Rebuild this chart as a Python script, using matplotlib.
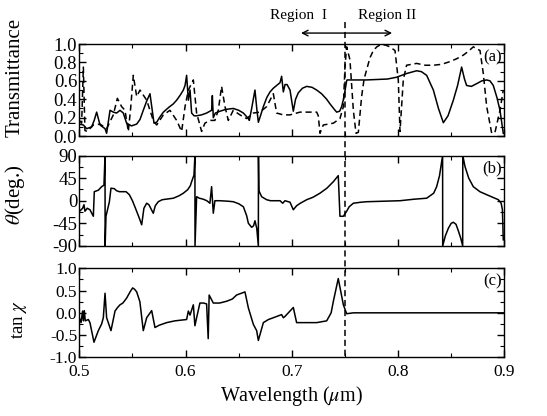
import numpy as np
import matplotlib
matplotlib.use("Agg")
import matplotlib.pyplot as plt
from matplotlib.transforms import blended_transform_factory
from matplotlib.lines import Line2D
from matplotlib.ticker import MultipleLocator

plt.rcParams['font.family'] = ['Liberation Serif', 'DejaVu Serif']
plt.rcParams['mathtext.fontset'] = 'stix'
plt.rcParams['axes.unicode_minus'] = False

# ---------------- data ----------------
# Panel (a): transmittance, solid curve
ta_solid_x = [0.5, 0.5038, 0.5069, 0.5116, 0.5140, 0.5163, 0.5195, 0.5242, 0.5257, 0.5289,
              0.532, 0.5351, 0.5383, 0.5414, 0.5445, 0.5477, 0.549, 0.554, 0.5571, 0.5602,
              0.5634, 0.5665, 0.5703, 0.5728, 0.576, 0.5791, 0.584, 0.5885, 0.5916, 0.5947,
              0.5979, 0.5995, 0.601, 0.6026, 0.6042, 0.6057, 0.608, 0.6104, 0.615, 0.6198,
              0.6245, 0.6252, 0.6261, 0.628, 0.6324, 0.638, 0.6449, 0.65, 0.6544, 0.6591,
              0.6600, 0.6622, 0.6653, 0.667, 0.6685, 0.6705, 0.6732, 0.6765, 0.6795, 0.6826,
              0.6857, 0.6889, 0.6904, 0.692, 0.6936, 0.6955, 0.6983, 0.7014, 0.7035, 0.7061,
              0.71, 0.714, 0.719, 0.7234, 0.728, 0.7328, 0.7359, 0.74, 0.7422, 0.745,
              0.7469, 0.749, 0.7516, 0.752, 0.77, 0.79, 0.7987, 0.808, 0.8175, 0.822,
              0.8269, 0.8332, 0.838, 0.8426, 0.847, 0.852, 0.856, 0.8598, 0.8625, 0.8645,
              0.869, 0.874, 0.8788, 0.8834, 0.8865, 0.8896, 0.893, 0.8959, 0.899]
ta_solid_y = [0.13, 0.12, 0.08, 0.10, 0.17, 0.26, 0.12, 0.08, 0.03, 0.28,
              0.26, 0.25, 0.28, 0.25, 0.14, 0.12, 0.11, 0.13, 0.18, 0.28,
              0.38, 0.46, 0.14, 0.15, 0.21, 0.26, 0.31, 0.35, 0.39, 0.44,
              0.50, 0.55, 0.66, 0.39, 0.50, 0.25, 0.22, 0.22, 0.23, 0.25,
              0.28, 0.44, 0.20, 0.25, 0.27, 0.29, 0.30, 0.28, 0.25, 0.19,
              0.17, 0.30, 0.50, 0.30, 0.15, 0.22, 0.32, 0.42, 0.48, 0.52,
              0.55, 0.58, 0.65, 0.48, 0.56, 0.56, 0.50, 0.27, 0.40, 0.47,
              0.52, 0.54, 0.53, 0.50, 0.46, 0.40, 0.35, 0.29, 0.26, 0.27,
              0.32, 0.42, 0.60, 0.61, 0.61, 0.62, 0.64, 0.68, 0.71, 0.70,
              0.66, 0.50, 0.30, 0.145, 0.22, 0.39, 0.55, 0.75, 0.62, 0.55,
              0.54, 0.57, 0.60, 0.61, 0.60, 0.55, 0.42, 0.28, 0.03]

# Panel (a): transmittance, dashed curve
ta_dash_x = [0.5, 0.5022, 0.5038, 0.5053, 0.5075, 0.5132, 0.5195, 0.5257, 0.532, 0.5358,
             0.5398, 0.543, 0.5461, 0.5483, 0.5508, 0.554, 0.5571, 0.5634, 0.5696, 0.5728,
             0.5791, 0.5853, 0.5916, 0.5963, 0.5995, 0.6026, 0.6073, 0.6104, 0.6151, 0.6182,
             0.6229, 0.6276, 0.6308, 0.6339, 0.6371, 0.6402, 0.6449, 0.6512, 0.6575, 0.6638,
             0.67, 0.6763, 0.6826, 0.6857, 0.692, 0.6983, 0.7077, 0.7234, 0.7249, 0.7265,
             0.7296, 0.7391, 0.7453, 0.7485, 0.75, 0.7516, 0.7547, 0.7579, 0.7604, 0.7626,
             0.7657, 0.768, 0.7704, 0.7735, 0.7767, 0.78, 0.783, 0.788, 0.7924, 0.7971,
             0.8002, 0.8018, 0.8049, 0.808, 0.8175, 0.8255, 0.8332, 0.841, 0.8489, 0.855,
             0.8614, 0.866, 0.8708, 0.8771, 0.8802, 0.8834, 0.8881, 0.8912, 0.8959, 0.899]
ta_dash_y = [0.17, 0.14, 0.75, 0.06, 0.05, 0.12, 0.13, 0.08, 0.23, 0.41,
             0.32, 0.28, 0.05, 0.30, 0.66, 0.43, 0.50, 0.39, 0.17, 0.12,
             0.23, 0.28, 0.17, 0.05, 0.32, 0.50, 0.61, 0.25, 0.05, 0.14,
             0.17, 0.17, 0.28, 0.54, 0.32, 0.17, 0.28, 0.23, 0.19, 0.25,
             0.26, 0.32, 0.46, 0.25, 0.23, 0.23, 0.26, 0.26, 0.22, 0.03,
             0.12, 0.14, 0.19, 0.32, 0.75, 0.97, 0.83, 0.28, 0.03, 0.04,
             0.43, 0.62, 0.72, 0.85, 0.93, 0.97, 0.99, 0.99, 0.97, 0.93,
             0.61, 0.05, 0.61, 0.77, 0.79, 0.77, 0.77, 0.78, 0.81, 0.84,
             0.88, 0.92, 0.97, 0.93, 0.68, 0.32, 0.03, 0.04, 0.28, 0.50]

# Panel (b): theta (deg.)
th_x = [0.5, 0.5031, 0.5044, 0.5053, 0.5075, 0.51, 0.5132, 0.5141, 0.5179, 0.521,
        0.5232, 0.5242, 0.5243, 0.5251, 0.5283, 0.5298, 0.533, 0.535, 0.5377, 0.544,
        0.5471, 0.55, 0.5534, 0.5565, 0.5587, 0.5608, 0.5634, 0.5655, 0.5696, 0.5715,
        0.5743, 0.578, 0.5885, 0.594, 0.5979, 0.602, 0.6045, 0.6057, 0.6079, 0.6088,
        0.6089, 0.6104, 0.613, 0.6167, 0.62, 0.6229, 0.6245, 0.6261, 0.6276, 0.6324,
        0.64, 0.6449, 0.65, 0.6544, 0.6575, 0.6591, 0.6622, 0.664, 0.6653, 0.667,
        0.6685, 0.6686, 0.669, 0.6716, 0.6763, 0.68, 0.6889, 0.6914, 0.6936, 0.6983,
        0.7014, 0.7045, 0.708, 0.714, 0.72, 0.7265, 0.733, 0.7391, 0.7437, 0.7453,
        0.7485, 0.7516, 0.754, 0.7579, 0.765, 0.7704, 0.8018, 0.815, 0.8269, 0.8335,
        0.8363, 0.839, 0.8419, 0.842, 0.8445, 0.8473, 0.85, 0.852, 0.8545, 0.8567,
        0.859, 0.8608, 0.8609, 0.863, 0.8665, 0.8708, 0.877, 0.8834, 0.89, 0.8944,
        0.897, 0.8982, 0.899]
th_y = [-21.6, -15, -8, -21, -15, -18, -31, 18, 21, 28,
        31, 90, -90, -31, -2, 25, 24, 20, 18, 18,
        12, 0, -18, -35, -48, -15, -5, -8, -25, -10,
        -2, 2, 5, 10, 15, 22, 30, 38, 51, 90,
        -90, 8, 5, 3, 0, -5, 28, -25, 0, 0,
        -1, -2, -6, -12, -30, -45, -53, -50, -40, -55,
        -90, 90, 20, 8, 2, 0, 0, -5, 0, -3,
        -18, -10, -5, 2, 7, 15, 25, 38, 50, -31,
        -31, -21, -12, -5, -3, -2, 0, 3, 5, 15,
        28, 50, 90, -90, -70, -55, -45, -43, -47, -60,
        -75, -90, 90, 68, 45, 28, 18, 12, 6, 2,
        -5, -18, -78]

# Panel (c): tan chi
tc_x = [0.5, 0.5016, 0.5031, 0.5038, 0.5047, 0.5056, 0.5085, 0.51, 0.5138, 0.5179,
        0.521, 0.5226, 0.5242, 0.5257, 0.5298, 0.5336, 0.536, 0.5383, 0.541, 0.5445,
        0.548, 0.5502, 0.552, 0.554, 0.557, 0.5602, 0.5634, 0.5681, 0.5712, 0.575,
        0.5822, 0.59, 0.6010, 0.6026, 0.6042, 0.6073, 0.6088, 0.6104, 0.6135, 0.617,
        0.6198, 0.6213, 0.6222, 0.6261, 0.632, 0.6386, 0.644, 0.648, 0.6559, 0.6591,
        0.6638, 0.6669, 0.6685, 0.6732, 0.678, 0.6826, 0.6904, 0.692, 0.6936, 0.7014,
        0.7045, 0.7234, 0.7328, 0.737, 0.7391, 0.7437, 0.7485, 0.7516, 0.7579, 0.9]
tc_y = [-0.11, -0.22, 0.04, -0.18, 0.05, -0.18, -0.15, -0.22, -0.66, -0.40,
        -0.25, -0.11, 0.44, -0.11, -0.40, 0.04, 0.12, 0.18, 0.22, 0.33,
        0.48, 0.56, 0.53, 0.47, 0.25, -0.40, -0.11, 0.05, -0.33, -0.28,
        -0.22, -0.18, -0.15, 0.04, -0.05, 0.18, -0.29, -0.11, 0.22, 0.22,
        0.20, -0.58, 0.40, 0.22, 0.22, 0.26, 0.31, 0.40, 0.47, 0.11,
        -0.26, -0.40, -0.62, -0.22, -0.15, -0.11, -0.04, -0.11, -0.08, 0.12,
        -0.22, -0.22, -0.18, 0.0, 0.26, 0.77, 0.18, -0.02, 0.0, 0.0]

x_ticks = [0.5, 0.6, 0.7, 0.8, 0.9]
x_tick_labels = ['0.5', '0.6', '0.7', '0.8', '0.9']

# ---------------- figure ----------------
fig = plt.figure(figsize=(5.47, 4.16), dpi=100)
L, W = 0.145, 0.777
ax_a = fig.add_axes([L, 0.673, W, 0.221])
ax_b = fig.add_axes([L, 0.409, W, 0.217])
ax_c = fig.add_axes([L, 0.141, W, 0.214])

lw = 1.1
ax_a.plot(ta_solid_x, ta_solid_y, color='black', lw=lw)
ax_a.plot(ta_dash_x, ta_dash_y, color='black', lw=lw, ls=(0, (4, 2.5)))
ax_b.plot(th_x, th_y, color='black', lw=lw)
ax_c.plot(tc_x, tc_y, color='black', lw=lw)

for ax in (ax_a, ax_b, ax_c):
    ax.set_xlim(0.5, 0.9)
    ax.set_xticks(x_ticks)
    ax.xaxis.set_minor_locator(MultipleLocator(0.05))
    ax.tick_params(which='both', direction='in', top=True, right=True)
    ax.tick_params(axis='x', labelsize=12.5, pad=5)
    ax.tick_params(axis='y', pad=1.5)
    ax.tick_params(which='major', length=5, width=1)
    ax.tick_params(which='minor', length=3, width=0.8)
    for s in ax.spines.values():
        s.set_linewidth(1.0)

ax_a.tick_params(axis='y', labelsize=13.5)
ax_b.tick_params(axis='y', labelsize=13.5)
ax_c.tick_params(axis='y', labelsize=12.5)

ax_a.tick_params(labelbottom=False)
ax_b.tick_params(labelbottom=False)
ax_c.set_xticklabels(x_tick_labels)

ax_a.set_ylim(0, 1.0)
ax_a.set_yticks([0.0, 0.2, 0.4, 0.6, 0.8, 1.0])
ax_a.yaxis.set_minor_locator(MultipleLocator(0.1))
ax_a.set_yticklabels(['0.0', '0.2', '0.4', '0.6', '0.8', '1.0'])

ax_b.set_ylim(-90, 90)
ax_b.set_yticks([-90, -45, 0, 45, 90])
ax_b.yaxis.set_minor_locator(MultipleLocator(22.5))
ax_b.set_yticklabels(['-90', '-45', '0', '45', '90'])

ax_c.set_ylim(-1.0, 1.0)
ax_c.set_yticks([-1.0, -0.5, 0.0, 0.5, 1.0])
ax_c.yaxis.set_minor_locator(MultipleLocator(0.25))
ax_c.set_yticklabels(['-1.0', '-0.5', '0.0', '0.5', '1.0'])

ax_a.set_ylabel('Transmittance', fontsize=15)
ax_b.set_ylabel(r'$\theta$(deg.)', fontsize=15)
ax_c.set_ylabel(r'tan $\chi$', fontsize=13.5)
ax_a.yaxis.set_label_coords(-0.128, 0.64)
ax_b.yaxis.set_label_coords(-0.122, 0.57)
ax_c.yaxis.set_label_coords(-0.118, 0.43)
ax_c.set_xlabel(r'Wavelength ($\mu$m)', fontsize=14.5, labelpad=3)

for ax, lab in ((ax_a, '(a)'), (ax_b, '(b)'), (ax_c, '(c)')):
    ax.text(0.995, 0.855, lab, transform=ax.transAxes, ha='right', va='center', fontsize=12)

# vertical dashed divider at 0.75
tr = blended_transform_factory(ax_c.transData, fig.transFigure)
fig.add_artist(Line2D([0.75, 0.75], [0.947, 0.141], transform=tr, color='black',
                      lw=1.1, ls=(0, (4, 2.5))))

# region arrow and labels
tra = blended_transform_factory(ax_a.transData, ax_a.transAxes)
ax_a.annotate('', xy=(0.797, 1.12), xytext=(0.706, 1.12), xycoords=tra, textcoords=tra,
              arrowprops=dict(arrowstyle='<->', color='black', lw=1.0), annotation_clip=False)
ax_a.text(0.706, 1.31, 'Region  I', transform=tra, ha='center', va='center', fontsize=11)
ax_a.text(0.790, 1.31, 'Region II', transform=tra, ha='center', va='center', fontsize=11)

fig.savefig('out.png', dpi=100)
